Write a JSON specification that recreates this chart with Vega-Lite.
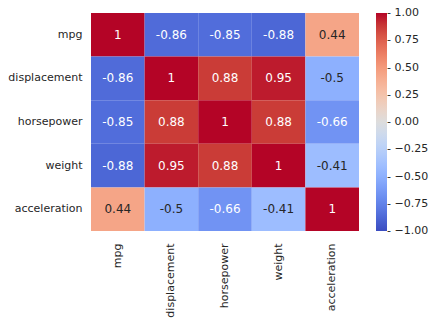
{
  "$schema": "https://vega.github.io/schema/vega-lite/v6.json",
  "autosize": {"type": "none"},
  "padding": {"left": 91, "top": 13, "right": 78, "bottom": 91},
  "width": 268,
  "height": 218,
  "background": "white",
  "config": {
    "font": "DejaVu Sans",
    "view": {"stroke": null},
    "axis": {"labelFont": "DejaVu Sans", "labelFontSize": 11, "labelColor": "#262626", "ticks": false, "domain": false, "grid": false, "title": null}
  },
  "data": {
    "values": [
      {"row": "mpg", "col": "mpg", "value": 1},
      {"row": "mpg", "col": "displacement", "value": -0.86},
      {"row": "mpg", "col": "horsepower", "value": -0.85},
      {"row": "mpg", "col": "weight", "value": -0.88},
      {"row": "mpg", "col": "acceleration", "value": 0.44},
      {"row": "displacement", "col": "mpg", "value": -0.86},
      {"row": "displacement", "col": "displacement", "value": 1},
      {"row": "displacement", "col": "horsepower", "value": 0.88},
      {"row": "displacement", "col": "weight", "value": 0.95},
      {"row": "displacement", "col": "acceleration", "value": -0.5},
      {"row": "horsepower", "col": "mpg", "value": -0.85},
      {"row": "horsepower", "col": "displacement", "value": 0.88},
      {"row": "horsepower", "col": "horsepower", "value": 1},
      {"row": "horsepower", "col": "weight", "value": 0.88},
      {"row": "horsepower", "col": "acceleration", "value": -0.66},
      {"row": "weight", "col": "mpg", "value": -0.88},
      {"row": "weight", "col": "displacement", "value": 0.95},
      {"row": "weight", "col": "horsepower", "value": 0.88},
      {"row": "weight", "col": "weight", "value": 1},
      {"row": "weight", "col": "acceleration", "value": -0.41},
      {"row": "acceleration", "col": "mpg", "value": 0.44},
      {"row": "acceleration", "col": "displacement", "value": -0.5},
      {"row": "acceleration", "col": "horsepower", "value": -0.66},
      {"row": "acceleration", "col": "weight", "value": -0.41},
      {"row": "acceleration", "col": "acceleration", "value": 1}
    ]
  },
  "encoding": {
    "x": {"field": "col", "type": "nominal", "sort": ["mpg", "displacement", "horsepower", "weight", "acceleration"], "axis": {"labelAngle": -90, "labelPadding": 12, "orient": "bottom"}},
    "y": {"field": "row", "type": "nominal", "sort": ["mpg", "displacement", "horsepower", "weight", "acceleration"], "axis": {"labelPadding": 9}}
  },
  "layer": [
    {
      "mark": {"type": "rect"},
      "encoding": {
        "color": {
          "field": "value",
          "type": "quantitative",
          "scale": {
            "type": "linear",
            "interpolate": "rgb",
            "domain": [-1, -0.875, -0.75, -0.625, -0.5, -0.375, -0.25, -0.125, 0, 0.125, 0.25, 0.375, 0.5, 0.625, 0.75, 0.875, 1],
            "range": ["#3b4cc0", "#4d68d7", "#6282ea", "#779af7", "#8db0fe", "#a3c2ff", "#b8d0f9", "#ccd9ee", "#dddddd", "#ecd3c5", "#f5c4ac", "#f7b194", "#f49a7b", "#ec7f63", "#de604d", "#cb3e38", "#b40426"]
          },
          "legend": {
            "title": null,
            "orient": "none",
            "legendX": 285,
            "legendY": 0,
            "direction": "vertical",
            "gradientLength": 218,
            "gradientThickness": 11,
            "gradientStrokeWidth": 0,
            "values": [-1, -0.75, -0.5, -0.25, 0, 0.25, 0.5, 0.75, 1],
            "format": ".2f",
            "labelExpr": "'- ' + datum.label",
            "labelOverlap": false,
            "labelOffset": 0,
            "labelFontSize": 11,
            "labelColor": "#262626",
            "labelFont": "DejaVu Sans",
            "labelBaseline": "middle",
            "encode": {"labels": {"update": {"baseline": {"value": "middle"}}}}
          }
        }
      }
    },
    {
      "mark": {"type": "text", "fontSize": 12, "font": "DejaVu Sans"},
      "encoding": {
        "text": {"field": "value", "type": "nominal"},
        "color": {
          "condition": {"test": "datum.value > -0.6 && datum.value < 0.6", "value": "#262626"},
          "value": "#ffffff"
        }
      }
    }
  ]
}
